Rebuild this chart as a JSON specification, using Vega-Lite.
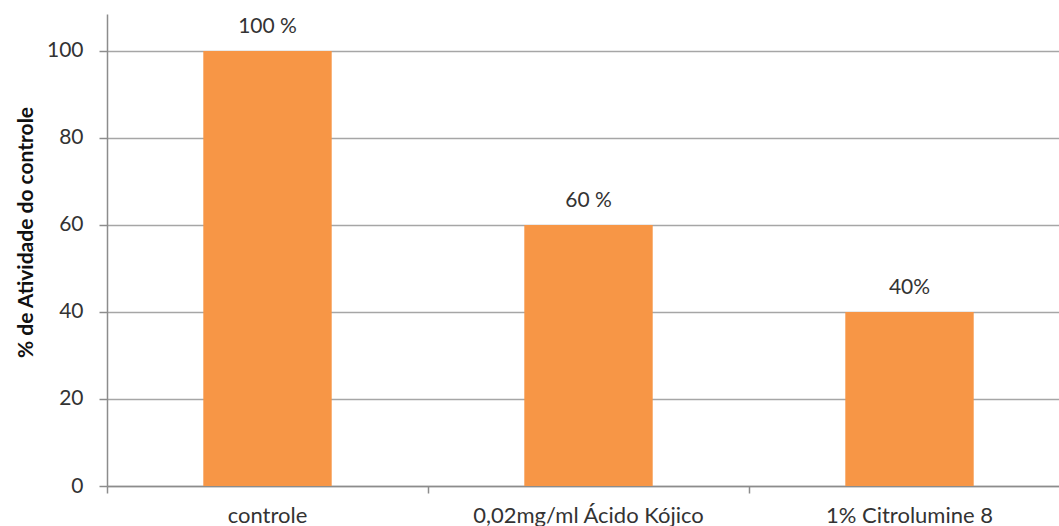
{
  "$schema": "https://vega.github.io/schema/vega-lite/v6.json",
  "autosize": {"type": "none"},
  "padding": {"left": 107, "top": 14, "right": 0, "bottom": 40},
  "width": 952,
  "height": 472,
  "background": "white",
  "config": {
    "view": {"stroke": null},
    "font": "Lato"
  },
  "data": {
    "values": [
      {"grupo": "controle", "atividade": 100, "rotulo": "100 %"},
      {"grupo": "0,02mg/ml Ácido Kójico", "atividade": 60, "rotulo": "60 %"},
      {"grupo": "1% Citrolumine 8", "atividade": 40, "rotulo": "40%"}
    ]
  },
  "encoding": {
    "x": {
      "field": "grupo",
      "type": "nominal",
      "sort": null,
      "scale": {"range": [0, 963], "paddingInner": 0, "paddingOuter": 0},
      "axis": {
        "title": null,
        "labelAngle": 0,
        "labelFontSize": 22,
        "labelLimit": 0,
        "labelColor": "#333333",
        "labelPadding": 12,
        "bandPosition": 0,
        "tickSize": 7,
        "tickColor": "#8c8c8c",
        "tickWidth": 1.5,
        "domainColor": "#8c8c8c",
        "domainWidth": 1.5,
        "grid": false
      }
    },
    "y": {
      "field": "atividade",
      "type": "quantitative",
      "scale": {"domain": [0, 108.5], "nice": false},
      "axis": {
        "title": "% de Atividade do controle",
        "titleFontSize": 21,
        "titleFontWeight": "bold",
        "titleColor": "#111111",
        "titlePadding": 10,
        "titleY": 218,
        "values": [0, 20, 40, 60, 80, 100],
        "labelFontSize": 21,
        "labelColor": "#333333",
        "labelPadding": 16,
        "tickSize": 8,
        "tickColor": "#8c8c8c",
        "tickWidth": 1.5,
        "domainColor": "#8c8c8c",
        "domainWidth": 1.5,
        "grid": true,
        "gridColor": "#a6a6a6",
        "gridWidth": 1.5
      }
    }
  },
  "layer": [
    {
      "mark": {"type": "bar", "color": "#F79646", "width": {"band": 0.4}}
    },
    {
      "mark": {"type": "text", "dy": -24, "fontSize": 21, "color": "#333333", "baseline": "middle"},
      "encoding": {"text": {"field": "rotulo"}}
    }
  ]
}
